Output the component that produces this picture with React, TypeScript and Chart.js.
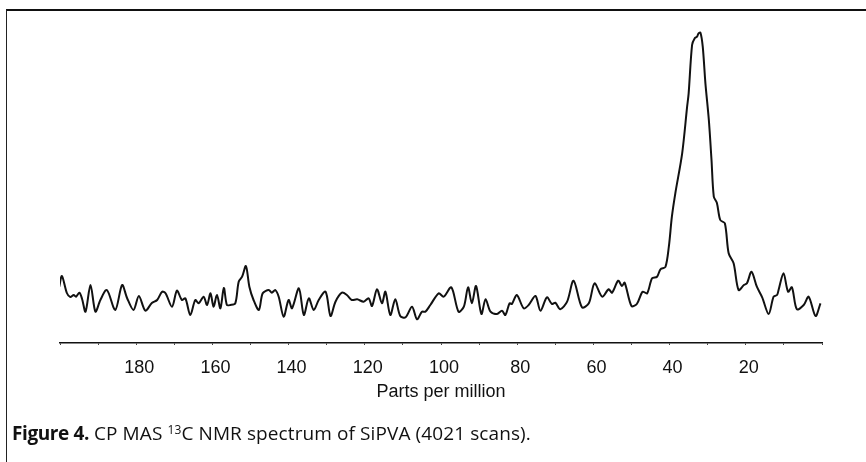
import React, { useEffect, useRef } from "react";
import { Chart, registerables } from "chart.js";

Chart.register(...registerables);

// Chemical shift (ppm) of each sampled point of the spectrum
const ppm = [
  200.2, 199.5, 198.2, 197.3, 196.4, 195.8, 194.9, 194.2, 193.3, 192.0,
  190.7, 189.4, 187.7, 185.5, 183.7, 182.4, 180.7, 179.3, 177.6, 175.9,
  174.5, 173.2, 172.3, 170.6, 169.3, 168.0, 167.1, 165.8, 164.5, 163.6,
  162.3, 161.4, 160.5, 159.7, 158.8, 157.9, 157.0, 156.2, 155.3, 154.0,
  153.1, 152.2, 151.2, 150.3, 149.2, 147.8, 146.8, 145.2, 144.4, 143.5,
  142.6, 141.3, 140.0, 139.1, 137.3, 136.0, 134.7, 133.4, 132.1, 130.3,
  129.0, 127.7, 126.0, 124.7, 123.4, 122.0, 120.3, 119.0, 118.1, 116.8,
  115.5, 114.6, 113.3, 112.0, 110.7, 109.3, 107.6, 106.3, 105.0, 104.1,
  102.8, 100.6, 99.3, 97.3, 95.4, 94.0, 92.9, 91.9, 90.8, 89.4,
  88.3, 87.0, 85.3, 84.0, 83.1, 82.0, 81.4, 80.1, 78.3, 77.0,
  75.2, 73.9, 72.2, 70.9, 70.0, 68.7, 66.9, 65.2, 63.0, 61.2,
  59.7, 57.7, 56.0, 55.1, 53.5, 52.5, 51.8, 50.0, 48.6, 47.1,
  45.9, 44.6, 43.3, 42.4, 41.1, 40.2, 39.4, 38.5, 36.7, 35.4,
  35.0, 34.1, 33.4, 32.8, 32.4, 31.9, 31.3, 30.6, 29.7, 29.0,
  28.4, 27.6, 26.7, 25.5, 24.5, 23.2, 21.9, 20.5, 19.7, 18.5,
  17.1, 15.7, 14.0, 12.7, 11.8, 11.4, 10.1, 8.9, 7.9, 6.6,
  4.8, 3.5, 1.7, 0.4,
];

// Signal intensity (arbitrary units) at each ppm value
const intensity = [
  56.3, 67, 50, 46, 48, 46.3, 50.3, 44, 31.3, 58,
  31.3, 43, 53, 33, 58, 45, 33, 47, 32.3, 40,
  43, 51.3, 49.7, 36.3, 52.3, 43, 44.7, 28, 43, 39.7,
  46.3, 38, 49.7, 36.3, 48, 34.7, 55, 38, 38, 39.7,
  61.3, 66.3, 77, 56.3, 43, 33, 49.7, 53, 50.3, 53,
  46.3, 26.3, 43, 34.7, 54.7, 28, 44.7, 33, 43, 51.3,
  27, 41.3, 50.3, 48, 43, 43.7, 41.3, 44.7, 37, 53.7,
  39.7, 51.3, 28, 43.7, 27, 25.7, 36.3, 23.7, 31.3, 31.3,
  38, 49.7, 46.3, 55.7, 31.3, 36.3, 55.7, 39.7, 57, 29,
  43.7, 31.3, 29, 32.3, 28, 39.7, 39, 48, 34.7, 38,
  47, 32.3, 45.7, 39, 40.3, 33.7, 41.3, 62.3, 35.7, 39.7,
  59.7, 46.3, 53.7, 50.3, 62.3, 57, 60.3, 37, 39, 51.3,
  49.7, 64.7, 66.3, 73.7, 76, 96.3, 126.3, 149.7, 189.7, 236.3,
  249.7, 298, 304.7, 306.3, 309.7, 310.3, 296.3, 259.7, 223, 183,
  146.3, 140.3, 123, 119.7, 89.7, 79.7, 53, 58, 59.7, 71.3,
  56.3, 45.7, 29, 46.3, 48, 53, 69.7, 51.3, 55.7, 33.7,
  38, 46.3, 27, 39.7,
];

// Labelled ticks on the ppm axis
const tickLabels = [180, 160, 140, 120, 100, 80, 60, 40, 20];

const xMin = 0;
const xMax = 200;
const yMax = 330;

export default function App() {
  const canvasRef = useRef<HTMLCanvasElement | null>(null);

  useEffect(() => {
    const canvas = canvasRef.current;
    if (!canvas) return;
    const points = ppm.map((p, i) => ({ x: p, y: intensity[i] }));
    const chart = new Chart(canvas, {
      type: "line",
      data: {
        datasets: [
          {
            data: points,
            borderColor: "#111",
            borderWidth: 2,
            pointRadius: 0,
            tension: 0.3,
            fill: false,
          },
        ],
      },
      options: {
        animation: false,
        responsive: false,
        maintainAspectRatio: false,
        layout: { padding: { left: 60, right: 44, top: 13, bottom: 0 } },
        plugins: {
          legend: { display: false },
          tooltip: { enabled: false },
        },
        scales: {
          x: {
            type: "linear",
            reverse: true,
            min: xMin,
            max: xMax,
            afterFit: (scale: any) => {
              scale.height = 119;
            },
            grid: {
              drawOnChartArea: false,
              drawTicks: true,
              tickLength: 2,
              color: "#444",
              lineWidth: 1,
            },
            border: { display: true, color: "#111", width: 1.5 },
            ticks: {
              stepSize: 10,
              autoSkip: false,
              maxRotation: 0,
              padding: 12,
              labelOffset: 3,
              color: "#111",
              font: { family: "'Liberation Sans', Arial, sans-serif", size: 18 },
              callback: (v: any) => (tickLabels.includes(Number(v)) ? String(v) : ""),
            },
            title: {
              display: true,
              text: "Parts per million",
              color: "#111",
              font: { family: "'Liberation Sans', Arial, sans-serif", size: 18 },
              padding: { top: 0, bottom: 59 },
            },
          },
          y: {
            display: false,
            min: 0,
            max: yMax,
          },
        },
      },
    });
    return () => chart.destroy();
  }, []);

  return (
    <div
      style={{
        position: "absolute",
        left: 0,
        top: 0,
        width: 866,
        height: 462,
        background: "#fff",
        overflow: "hidden",
      }}
    >
      <div
        style={{
          position: "absolute",
          left: 6,
          top: 9,
          width: 870,
          height: 470,
          borderTop: "2px solid #111",
          borderLeft: "1.5px solid #222",
          boxSizing: "border-box",
        }}
      />
      <canvas
        ref={canvasRef}
        width={866}
        height={462}
        style={{ position: "absolute", left: 0, top: 0, width: 866, height: 462 }}
      />
      <div
        style={{
          position: "absolute",
          left: 12,
          top: 420,
          whiteSpace: "nowrap",
          fontFamily: "'Open Sans', Lato, sans-serif",
          fontSize: 19,
          lineHeight: "19px",
          letterSpacing: 0.1,
          color: "#111",
        }}
      >
        <span style={{ fontWeight: 700, letterSpacing: -0.4 }}>Figure 4.</span> CP MAS{" "}
        <span style={{ fontSize: 12, verticalAlign: 6 }}>13</span>C NMR spectrum of SiPVA (4021 scans).
      </div>
    </div>
  );
}
